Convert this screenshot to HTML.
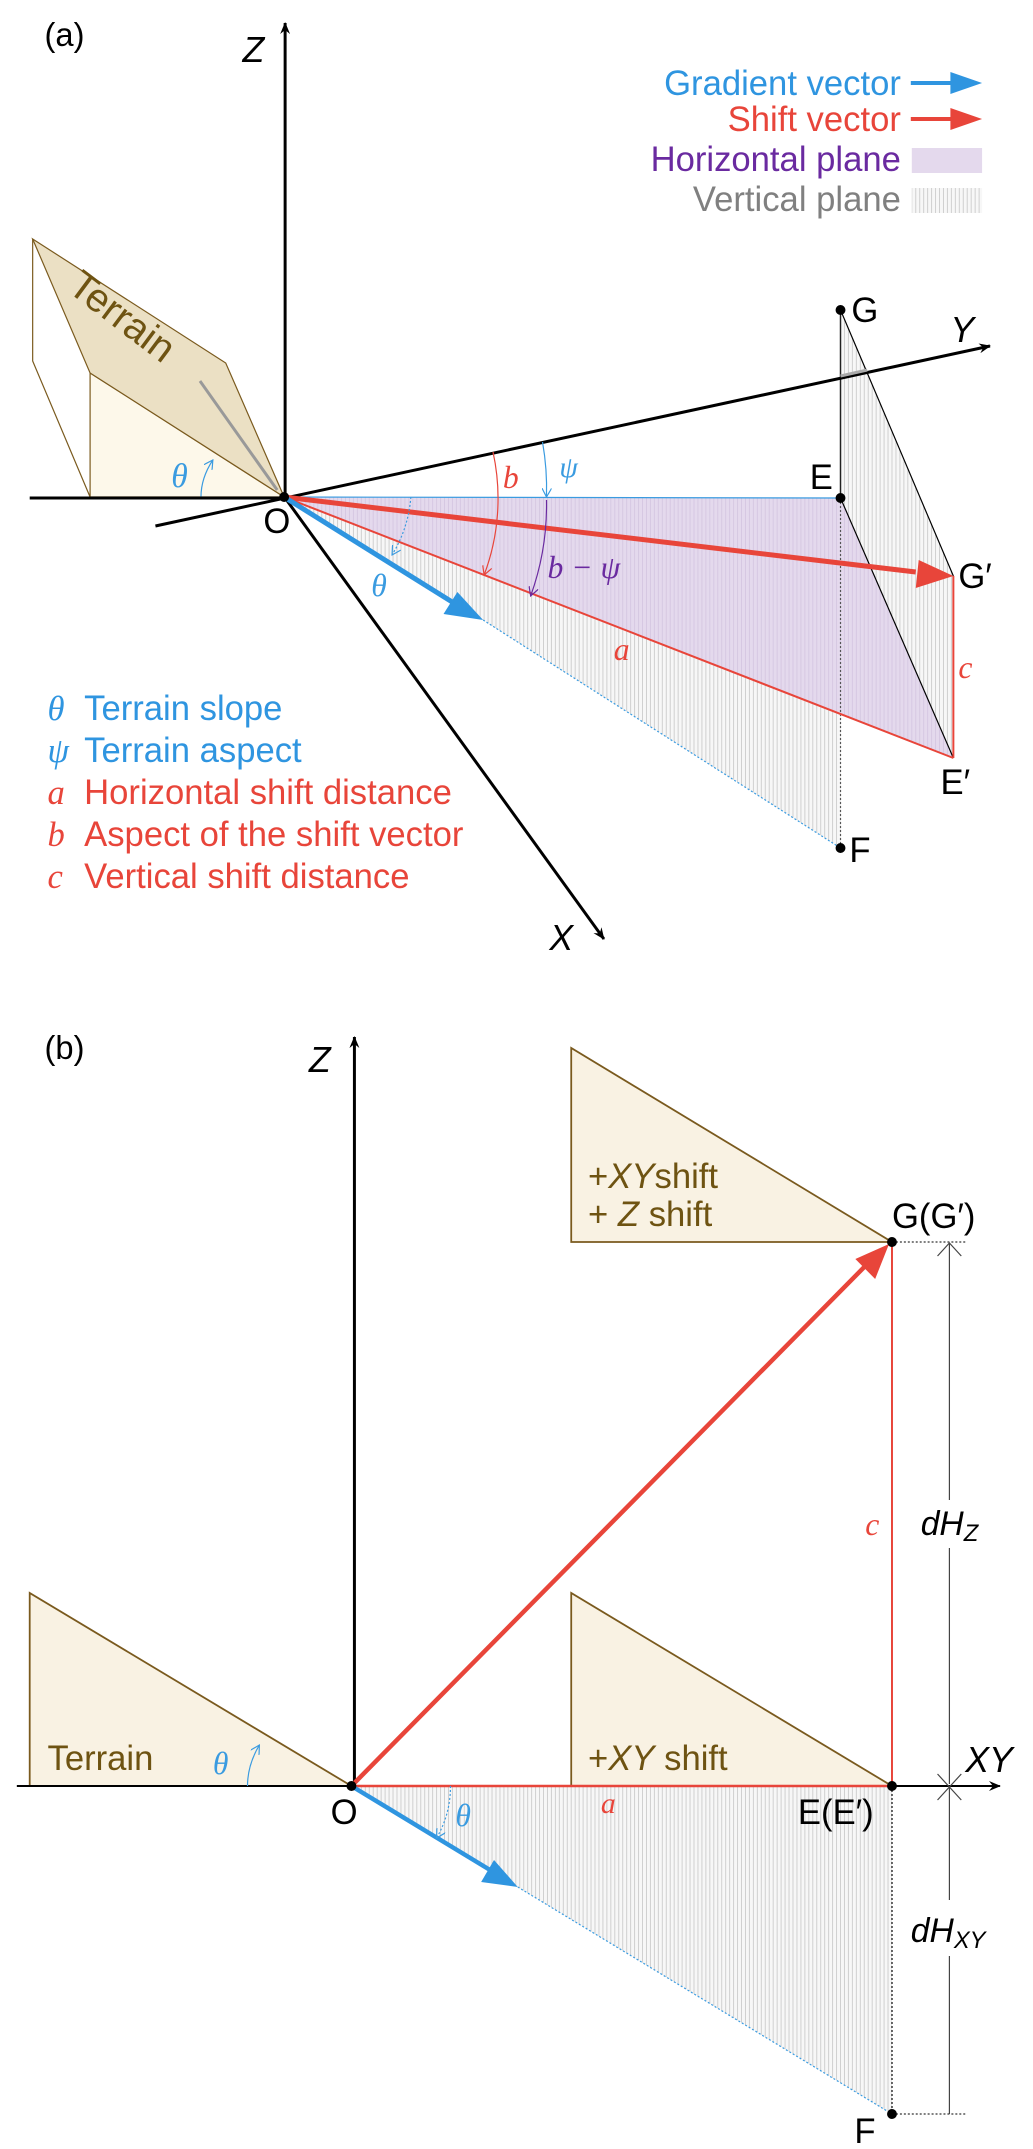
<!DOCTYPE html>
<html><head><meta charset="utf-8"><style>
html,body{margin:0;padding:0;background:#fff}
svg{display:block}
text{font-family:"Liberation Sans",sans-serif}
.s{font-family:"Liberation Serif",serif;font-style:italic}
</style></head><body>
<svg width="1033" height="2149" viewBox="0 0 1033 2149" xmlns="http://www.w3.org/2000/svg">
<defs>
<pattern id="vh" width="4" height="10" patternUnits="userSpaceOnUse"><rect width="4" height="10" fill="#f7f7f7"/><line x1="1" y1="0" x2="1" y2="10" stroke="#cfcfcf" stroke-width="1"/></pattern>
<pattern id="ph" width="4" height="10" patternUnits="userSpaceOnUse"><rect width="4" height="10" fill="#e4d9ed"/><line x1="1" y1="0" x2="1" y2="10" stroke="#d6c8e2" stroke-width="1"/></pattern>
<marker id="ak" markerWidth="12" markerHeight="10" refX="11" refY="5" orient="auto" markerUnits="userSpaceOnUse"><path d="M0,0 L12,5 L0,10 L4,5 z" fill="#000"/></marker>
<marker id="ab" markerWidth="10" markerHeight="10" refX="9" refY="5" orient="auto" markerUnits="userSpaceOnUse"><path d="M0,0 L9,5 L0,10" fill="none" stroke="#3a9be0" stroke-width="1.2"/></marker>
<marker id="ar" markerWidth="10" markerHeight="10" refX="9" refY="5" orient="auto" markerUnits="userSpaceOnUse"><path d="M0,0 L9,5 L0,10" fill="none" stroke="#e8453a" stroke-width="1.2"/></marker>
<marker id="ap" markerWidth="10" markerHeight="10" refX="9" refY="5" orient="auto" markerUnits="userSpaceOnUse"><path d="M0,0 L9,5 L0,10" fill="none" stroke="#6a2aa0" stroke-width="1.2"/></marker>
</defs>

<g transform="scale(0.99 1)">
<!-- ===== Panel (a) ===== -->
<text x="45" y="46" font-size="33">(a)</text>
<text x="245" y="62" font-size="36" font-style="italic">Z</text>
<line x1="288" y1="497" x2="288" y2="23" stroke="#000" stroke-width="3" marker-end="url(#ak)"/>

<!-- Terrain block -->
<polygon points="91,373 91,497 287,497" fill="#fdf8ea" stroke="#7a5a1e" stroke-width="1.2"/>
<polyline points="33,239 33,361 91,497" fill="none" stroke="#7a5a1e" stroke-width="1.2"/>
<polygon points="33,239 228,363 287,497 91,373" fill="#ebe0c4" stroke="#7a5a1e" stroke-width="1.2"/>
<line x1="202" y1="381" x2="280" y2="490" stroke="#999" stroke-width="3"/>
<text x="124" y="330" font-size="40" fill="#6e5312" text-anchor="middle" transform="rotate(37 124 316)">Terrain</text>
<text x="173" y="487" font-size="34" class="s" fill="#3a9be0">θ</text>
<path d="M 203 497 Q 203 478 215 460" fill="none" stroke="#3a9be0" stroke-width="1.2" marker-end="url(#ab)"/>

<!-- planes -->
<polygon points="287,497 488,620 849,848 849,498" fill="url(#vh)"/>
<polygon points="849,310 963,576 963,758 849,498" fill="url(#vh)"/>
<polygon points="287,497 849,498 963,758" fill="url(#ph)"/>
<line x1="287" y1="497" x2="849" y2="498" stroke="#3a9be0" stroke-width="1.2"/>
<line x1="488" y1="620" x2="849" y2="848" stroke="#3a9be0" stroke-width="1.2" stroke-dasharray="2,2"/>
<line x1="849" y1="498" x2="849" y2="848" stroke="#555" stroke-width="1.2" stroke-dasharray="2,2"/>
<line x1="849" y1="310" x2="849" y2="498" stroke="#222" stroke-width="1.5"/>
<line x1="849" y1="310" x2="963" y2="576" stroke="#000" stroke-width="1.2"/>
<line x1="849" y1="498" x2="963" y2="758" stroke="#000" stroke-width="1.2"/>

<!-- axes -->
<line x1="30" y1="498" x2="288" y2="498" stroke="#000" stroke-width="3"/>
<line x1="157" y1="526" x2="1000" y2="346" stroke="#000" stroke-width="3" marker-end="url(#ak)"/>
<line x1="849" y1="376" x2="876" y2="370" stroke="#aaa" stroke-width="3"/>
<line x1="288" y1="498" x2="610" y2="939" stroke="#000" stroke-width="3" marker-end="url(#ak)"/>
<text x="960" y="342" font-size="36" font-style="italic">Y</text>
<text x="555" y="950" font-size="36" font-style="italic">X</text>

<!-- red lines -->
<line x1="287" y1="497" x2="963" y2="758" stroke="#e8453a" stroke-width="2"/>
<line x1="963" y1="576" x2="963" y2="758" stroke="#e8453a" stroke-width="2"/>
<line x1="287" y1="497" x2="925" y2="572" stroke="#e8453a" stroke-width="5"/>
<polygon points="963,576 925,588 928,560" fill="#e8453a"/>
<!-- gradient -->
<line x1="287" y1="497" x2="460" y2="604" stroke="#2f95e0" stroke-width="5"/>
<polygon points="488,620 448,614 462,592" fill="#2f95e0"/>

<!-- arcs -->
<path d="M 498 452 A 215 215 0 0 1 489 575" fill="none" stroke="#e8453a" stroke-width="1.2" marker-end="url(#ar)"/>
<path d="M 548 442 A 265 265 0 0 1 552 497" fill="none" stroke="#3a9be0" stroke-width="1.2" marker-end="url(#ab)"/>
<path d="M 552 500 A 265 265 0 0 1 536 596" fill="none" stroke="#6a2aa0" stroke-width="1.2" marker-end="url(#ap)"/>
<path d="M 415 497 A 128 128 0 0 1 396 555" fill="none" stroke="#3a9be0" stroke-width="1.2" stroke-dasharray="2,2" marker-end="url(#ab)"/>

<text x="508" y="488" font-size="32" class="s" fill="#e8453a">b</text>
<text x="565" y="477" font-size="30" class="s" fill="#3a9be0">ψ</text>
<text x="553" y="578" font-size="32" class="s" fill="#6a2aa0">b − ψ</text>
<text x="375" y="596" font-size="32" class="s" fill="#3a9be0">θ</text>
<text x="620" y="660" font-size="32" class="s" fill="#e8453a">a</text>
<text x="968" y="678" font-size="32" class="s" fill="#e8453a">c</text>

<circle cx="287" cy="497" r="5"/>
<circle cx="849" cy="310" r="5"/>
<circle cx="849" cy="498" r="5"/>
<circle cx="849" cy="848" r="5"/>
<text x="266" y="533" font-size="35">O</text>
<text x="818" y="489" font-size="35">E</text>
<text x="860" y="322" font-size="35">G</text>
<text x="968" y="588" font-size="35">G′</text>
<text x="950" y="794" font-size="35">E′</text>
<text x="858" y="862" font-size="35">F</text>

<!-- legend -->
<text x="910" y="95" font-size="35" fill="#2f95e0" text-anchor="end">Gradient vector</text>
<line x1="920" y1="83" x2="962" y2="83" stroke="#2f95e0" stroke-width="4"/>
<polygon points="992,83 960,72 960,94" fill="#2f95e0"/>
<text x="910" y="131" font-size="35" fill="#e8453a" text-anchor="end">Shift vector</text>
<line x1="920" y1="119" x2="962" y2="119" stroke="#e8453a" stroke-width="4"/>
<polygon points="992,119 960,108 960,130" fill="#e8453a"/>
<text x="910" y="171" font-size="35" fill="#6a2aa0" text-anchor="end">Horizontal plane</text>
<rect x="921" y="148" width="71" height="25" fill="#e4d9ed"/>
<text x="910" y="211" font-size="35" fill="#808080" text-anchor="end">Vertical plane</text>
<rect x="921" y="188" width="71" height="25" fill="url(#vh)"/>

<g font-size="35">
<text x="48" y="720" class="s" fill="#2f95e0">θ</text><text x="85" y="720" fill="#2f95e0">Terrain slope</text>
<text x="48" y="762" class="s" fill="#2f95e0">ψ</text><text x="85" y="762" fill="#2f95e0">Terrain aspect</text>
<text x="48" y="804" class="s" fill="#e8453a">a</text><text x="85" y="804" fill="#e8453a">Horizontal shift distance</text>
<text x="48" y="846" class="s" fill="#e8453a">b</text><text x="85" y="846" fill="#e8453a">Aspect of the shift vector</text>
<text x="48" y="888" class="s" fill="#e8453a">c</text><text x="85" y="888" fill="#e8453a">Vertical shift distance</text>
</g>

<!-- ===== Panel (b) ===== -->
<text x="45" y="1059" font-size="33">(b)</text>
<text x="312" y="1072" font-size="36" font-style="italic">Z</text>

<polygon points="30,1593 30,1786 355,1786" fill="#f9f2e3" stroke="#7a5a1e" stroke-width="1.8"/>
<polygon points="577,1593 577,1786 901,1786" fill="#f9f2e3" stroke="#7a5a1e" stroke-width="1.8"/>
<polygon points="577,1048 577,1242 901,1242" fill="#f9f2e3" stroke="#7a5a1e" stroke-width="1.8"/>
<polygon points="355,1786 523,1887 901,2114 901,1786" fill="url(#vh)"/>
<line x1="523" y1="1887" x2="901" y2="2114" stroke="#3a9be0" stroke-width="1.2" stroke-dasharray="2,2"/>
<line x1="901" y1="1786" x2="901" y2="2114" stroke="#000" stroke-width="1.2" stroke-dasharray="2,2"/>

<line x1="358" y1="1786" x2="358" y2="1037" stroke="#000" stroke-width="3" marker-end="url(#ak)"/>
<line x1="17" y1="1786" x2="1010" y2="1786" stroke="#000" stroke-width="2" marker-end="url(#ak)"/>
<text x="975" y="1772" font-size="36" font-style="italic">XY</text>

<line x1="355" y1="1786" x2="901" y2="1786" stroke="#e8453a" stroke-width="2.5"/>
<line x1="901" y1="1242" x2="901" y2="1786" stroke="#e8453a" stroke-width="2"/>
<line x1="355" y1="1786" x2="875" y2="1265" stroke="#e8453a" stroke-width="4.5"/>
<polygon points="898,1244 884,1279 864,1259" fill="#e8453a"/>
<line x1="355" y1="1786" x2="495" y2="1870" stroke="#2f95e0" stroke-width="4.5"/>
<polygon points="523,1887 486,1882 499,1860" fill="#2f95e0"/>

<path d="M 250 1786 Q 250 1765 262 1745" fill="none" stroke="#3a9be0" stroke-width="1.2" marker-end="url(#ab)"/>
<path d="M 455 1786 A 100 100 0 0 1 441 1838" fill="none" stroke="#3a9be0" stroke-width="1.2" stroke-dasharray="2,2" marker-end="url(#ab)"/>

<!-- dimension -->
<line x1="901" y1="1242" x2="975" y2="1242" stroke="#000" stroke-width="1" stroke-dasharray="2,2"/>
<line x1="901" y1="2114" x2="975" y2="2114" stroke="#000" stroke-width="1" stroke-dasharray="2,2"/>
<line x1="959" y1="1244" x2="959" y2="1500" stroke="#444" stroke-width="1.2"/>
<line x1="959" y1="1548" x2="959" y2="1784" stroke="#444" stroke-width="1.2"/>
<line x1="959" y1="1788" x2="959" y2="1900" stroke="#444" stroke-width="1.2"/>
<line x1="959" y1="1956" x2="959" y2="2114" stroke="#444" stroke-width="1.2"/>
<path d="M947,1256 L959,1243 L971,1256" fill="none" stroke="#444" stroke-width="1.2"/>
<path d="M947,1774 L959,1787 L971,1774" fill="none" stroke="#444" stroke-width="1.2"/>
<path d="M947,1800 L959,1787 L971,1800" fill="none" stroke="#444" stroke-width="1.2"/>
<text x="930" y="1535" font-size="34" font-style="italic">dH<tspan font-size="24" dy="6">Z</tspan></text>
<text x="920" y="1942" font-size="34" font-style="italic">dH<tspan font-size="24" dy="6">XY</tspan></text>

<g font-size="35" fill="#6e5312">
<text x="594" y="1188">+<tspan font-style="italic">XY</tspan>shift</text>
<text x="594" y="1226">+ <tspan font-style="italic">Z</tspan>  shift</text>
<text x="594" y="1770">+<tspan font-style="italic">XY</tspan> shift</text>
<text x="48" y="1770">Terrain</text>
</g>
<text x="215" y="1774" font-size="32" class="s" fill="#3a9be0">θ</text>
<text x="460" y="1826" font-size="32" class="s" fill="#3a9be0">θ</text>
<text x="607" y="1813" font-size="30" class="s" fill="#e8453a">a</text>
<text x="874" y="1535" font-size="32" class="s" fill="#e8453a">c</text>

<circle cx="355" cy="1786" r="5"/>
<circle cx="901" cy="1242" r="5"/>
<circle cx="901" cy="1786" r="5"/>
<circle cx="901" cy="2114" r="5"/>
<text x="334" y="1824" font-size="35">O</text>
<text x="806" y="1824" font-size="35">E(E′)</text>
<text x="901" y="1228" font-size="35">G(G′)</text>
<text x="863" y="2143" font-size="35">F</text>
</g>
</svg>
</body></html>
